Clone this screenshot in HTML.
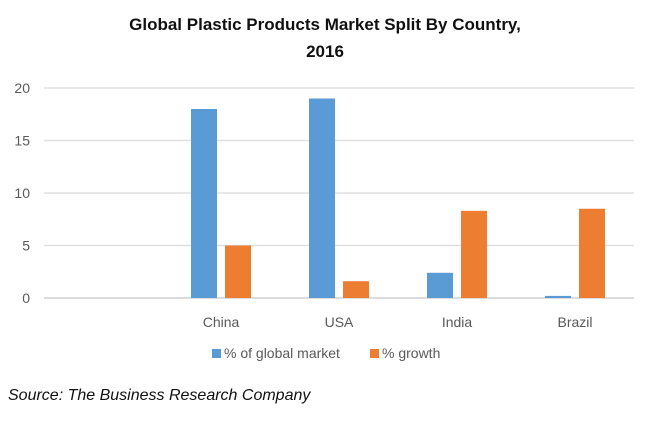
<!DOCTYPE html>
<html><head><meta charset="utf-8"><style>
body{margin:0;background:#fff;width:650px;height:419px;overflow:hidden;font-family:"Liberation Sans",sans-serif}
</style></head><body>
<svg width="650" height="419">
<text x="325" y="30" text-anchor="middle" font-size="17" font-weight="bold" fill="#111">Global Plastic Products Market Split By Country,</text>
<text x="325" y="57" text-anchor="middle" font-size="17" font-weight="bold" fill="#111">2016</text>
<g id="grid"></g><g id="bars"></g><g id="labels"></g>
<g>
<rect x="212" y="349" width="9" height="9" fill="#5b9bd5"/>
<text x="224" y="358" font-size="14" fill="#595959">% of global market</text>
<rect x="370" y="349" width="9" height="9" fill="#ed7d31"/>
<text x="382" y="358" font-size="14" fill="#595959">% growth</text>
</g>
<text x="8" y="400" font-size="16" font-style="italic" fill="#111">Source: The Business Research Company</text>
</svg>
<script>
const categories=["","China","USA","India","Brazil"];
const marketShare=[0,18,19,2.4,0.2];
const growth=[0,5,1.6,8.3,8.5];
const ticks=[0,5,10,15,20];
const ns="http://www.w3.org/2000/svg";
const x0=44,x1=634,yTop=88,yBot=298,vmax=20;
const bw=(x1-x0)/categories.length;
const y=v=>yBot-(v/vmax)*(yBot-yTop);
function mk(t,a,p){const e=document.createElementNS(ns,t);for(const k in a)e.setAttribute(k,a[k]);p.appendChild(e);return e;}
const G=document.getElementById('grid'),B=document.getElementById('bars'),L=document.getElementById('labels');
ticks.forEach(t=>{
 const l=mk('line',{x1:x0,x2:x1,y1:y(t),y2:y(t),stroke:t===0?'#d0d0d0':'#e0e0e0','stroke-width':1.5},G);
 
 
 const tx=mk('text',{x:30,y:y(t)+5,'text-anchor':'end','font-size':14,fill:'#595959'},G);
 tx.textContent=t;
 
 
});
categories.forEach((c,i)=>{
 const cx=x0+bw*(i+0.5);
 const b1=mk('rect',{x:cx-30,y:y(marketShare[i]),width:26,height:yBot-y(marketShare[i]),fill:'#5b9bd5'},B);
 
 
 const b2=mk('rect',{x:cx+4,y:y(growth[i]),width:26,height:yBot-y(growth[i]),fill:'#ed7d31'},B);
 
 
 if(c){const t=mk('text',{x:cx,y:327,'text-anchor':'middle','font-size':14,fill:'#595959'},L);
 t.textContent=c;
 
 }
});
</script>
</body></html>
